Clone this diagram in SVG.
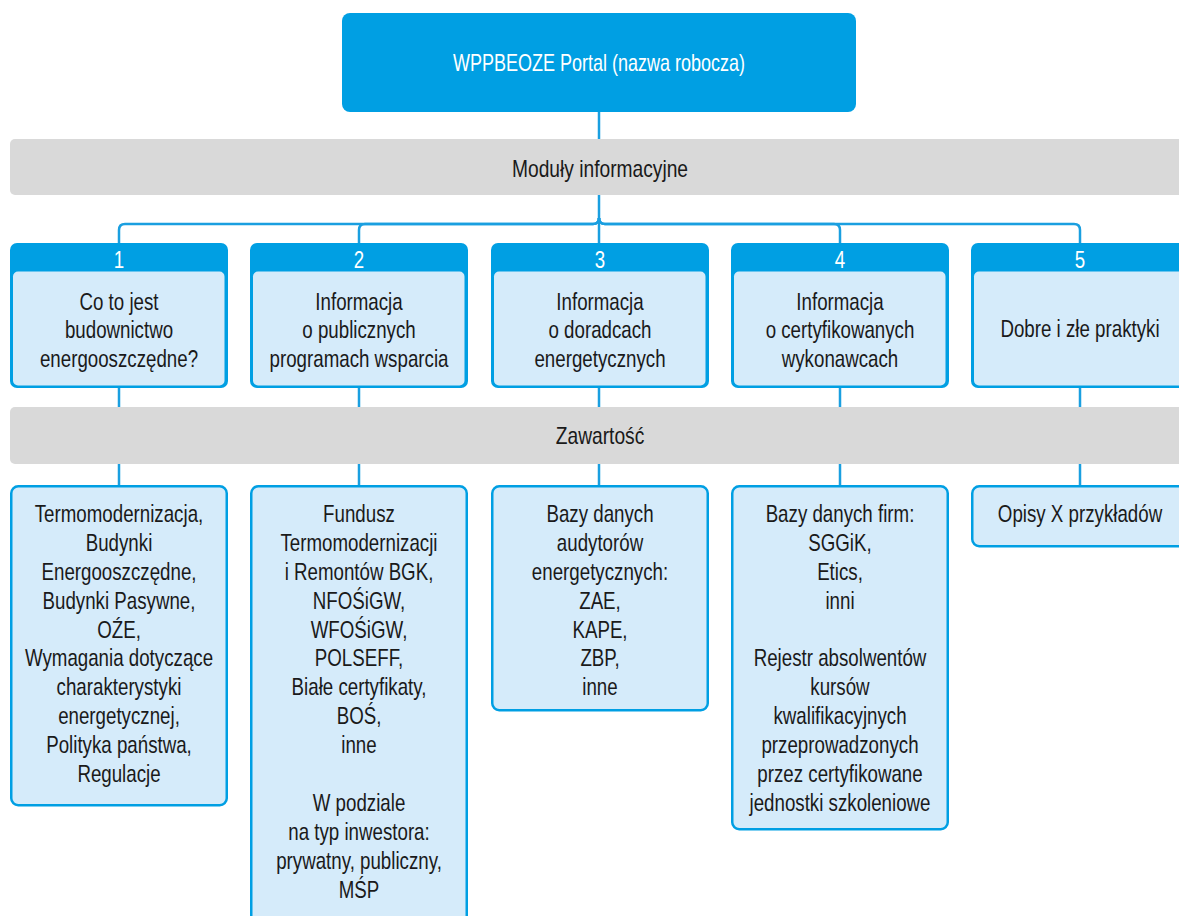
<svg xmlns="http://www.w3.org/2000/svg" width="1179" height="916" viewBox="0 0 1179 916">
<style>
.t{font-family:"Liberation Sans",Arial,sans-serif;font-size:24px;fill:#1a1a1a;text-anchor:middle}
.w{fill:#ffffff}
.bar{fill:#d9d9d9}
.hdr{fill:#009fe3}
.body{fill:#d5ebfa}
.box{fill:#d5ebfa;stroke:#009fe3;stroke-width:2.5}
.ln{fill:none;stroke:#1a9fe0;stroke-width:2.5}
</style>
<rect width="1179" height="916" fill="#ffffff"/>
<g id="connectors">
<path class="ln" d="M599 112 V224"/>
<path class="ln" d="M599 218 Q599 224 593 224 H125 Q119 224 119 230 V243"/>
<path class="ln" d="M599 218 Q599 224 593 224 H365 Q359 224 359 230 V243"/>
<path class="ln" d="M599 218 V243"/>
<path class="ln" d="M599 218 Q599 224 605 224 H834 Q840 224 840 230 V243"/>
<path class="ln" d="M599 218 Q599 224 605 224 H1074 Q1080 224 1080 230 V243"/>
<path class="ln" d="M119 388 V486 M359 388 V486 M599 388 V486 M840 388 V486 M1080 388 V486"/>
</g>
<g id="portal">
<rect class="hdr" x="342" y="13" width="514" height="99" rx="8"/>
<text class="t w" transform="translate(599 71) scale(0.75 1)">WPPBEOZE Portal (nazwa robocza)</text>
</g>
<g id="bar-moduly">
<rect class="bar" x="10" y="139" width="1185" height="56" rx="5"/>
<text class="t" transform="translate(600 177) scale(0.8 1)">Moduły informacyjne</text>
</g>
<g id="module-1">
<rect class="hdr" x="10" y="243" width="218" height="145" rx="7"/>
<rect class="body" x="13" y="271.5" width="211.5" height="114" rx="5"/>
<text class="t w" transform="translate(119 268) scale(0.78 1)">1</text>
<g transform="translate(119 0) scale(0.78 1)"><text class="t"><tspan x="0" y="310">Co to jest</tspan><tspan x="0" y="338.5">budownictwo</tspan><tspan x="0" y="367">energooszczędne?</tspan></text></g>
</g>
<g id="module-2">
<rect class="hdr" x="250" y="243" width="218" height="145" rx="7"/>
<rect class="body" x="253" y="271.5" width="211.5" height="114" rx="5"/>
<text class="t w" transform="translate(359 268) scale(0.78 1)">2</text>
<g transform="translate(359 0) scale(0.78 1)"><text class="t"><tspan x="0" y="310">Informacja</tspan><tspan x="0" y="338.5">o publicznych</tspan><tspan x="0" y="367">programach wsparcia</tspan></text></g>
</g>
<g id="module-3">
<rect class="hdr" x="491" y="243" width="218" height="145" rx="7"/>
<rect class="body" x="494" y="271.5" width="211.5" height="114" rx="5"/>
<text class="t w" transform="translate(600 268) scale(0.78 1)">3</text>
<g transform="translate(600 0) scale(0.78 1)"><text class="t"><tspan x="0" y="310">Informacja</tspan><tspan x="0" y="338.5">o doradcach</tspan><tspan x="0" y="367">energetycznych</tspan></text></g>
</g>
<g id="module-4">
<rect class="hdr" x="731" y="243" width="218" height="145" rx="7"/>
<rect class="body" x="734" y="271.5" width="211.5" height="114" rx="5"/>
<text class="t w" transform="translate(840 268) scale(0.78 1)">4</text>
<g transform="translate(840 0) scale(0.78 1)"><text class="t"><tspan x="0" y="310">Informacja</tspan><tspan x="0" y="338.5">o certyfikowanych</tspan><tspan x="0" y="367">wykonawcach</tspan></text></g>
</g>
<g id="module-5">
<rect class="hdr" x="971" y="243" width="218" height="145" rx="7"/>
<rect class="body" x="974" y="271.5" width="211.5" height="114" rx="5"/>
<text class="t w" transform="translate(1080 268) scale(0.78 1)">5</text>
<g transform="translate(1080 0) scale(0.78 1)"><text class="t"><tspan x="0" y="337">Dobre i złe praktyki</tspan></text></g>
</g>
<g id="bar-zawartosc">
<rect class="bar" x="10" y="407" width="1185" height="57" rx="5"/>
<text class="t" transform="translate(600 444) scale(0.8 1)">Zawartość</text>
</g>
<g id="content-1">
<rect class="box" x="11.25" y="486.25" width="215.5" height="319" rx="7"/>
<g transform="translate(119 0) scale(0.78 1)"><text class="t"><tspan x="0" y="522">Termomodernizacja,</tspan><tspan x="0" y="550.9">Budynki</tspan><tspan x="0" y="579.8">Energooszczędne,</tspan><tspan x="0" y="608.7">Budynki Pasywne,</tspan><tspan x="0" y="637.6">OŹE,</tspan><tspan x="0" y="666.5">Wymagania dotyczące</tspan><tspan x="0" y="695.4">charakterystyki</tspan><tspan x="0" y="724.3">energetycznej,</tspan><tspan x="0" y="753.2">Polityka państwa,</tspan><tspan x="0" y="782.1">Regulacje</tspan></text></g>
</g>
<g id="content-2">
<rect class="box" x="251.25" y="486.25" width="215.5" height="440" rx="7"/>
<g transform="translate(359 0) scale(0.78 1)"><text class="t"><tspan x="0" y="522">Fundusz</tspan><tspan x="0" y="550.9">Termomodernizacji</tspan><tspan x="0" y="579.8">i Remontów BGK,</tspan><tspan x="0" y="608.7">NFOŚiGW,</tspan><tspan x="0" y="637.6">WFOŚiGW,</tspan><tspan x="0" y="666.5">POLSEFF,</tspan><tspan x="0" y="695.4">Białe certyfikaty,</tspan><tspan x="0" y="724.3">BOŚ,</tspan><tspan x="0" y="753.2">inne</tspan><tspan x="0" y="811">W podziale</tspan><tspan x="0" y="839.9">na typ inwestora:</tspan><tspan x="0" y="868.8">prywatny, publiczny,</tspan><tspan x="0" y="897.7">MŚP</tspan></text></g>
</g>
<g id="content-3">
<rect class="box" x="492.25" y="486.25" width="215.5" height="224" rx="7"/>
<g transform="translate(600 0) scale(0.78 1)"><text class="t"><tspan x="0" y="522">Bazy danych</tspan><tspan x="0" y="550.9">audytorów</tspan><tspan x="0" y="579.8">energetycznych:</tspan><tspan x="0" y="608.7">ZAE,</tspan><tspan x="0" y="637.6">KAPE,</tspan><tspan x="0" y="666.5">ZBP,</tspan><tspan x="0" y="695.4">inne</tspan></text></g>
</g>
<g id="content-4">
<rect class="box" x="732.25" y="486.25" width="215.5" height="343" rx="7"/>
<g transform="translate(840 0) scale(0.78 1)"><text class="t"><tspan x="0" y="522">Bazy danych firm:</tspan><tspan x="0" y="550.9">SGGiK,</tspan><tspan x="0" y="579.8">Etics,</tspan><tspan x="0" y="608.7">inni</tspan><tspan x="0" y="666.5">Rejestr absolwentów</tspan><tspan x="0" y="695.4">kursów</tspan><tspan x="0" y="724.3">kwalifikacyjnych</tspan><tspan x="0" y="753.2">przeprowadzonych</tspan><tspan x="0" y="782.1">przez certyfikowane</tspan><tspan x="0" y="811">jednostki szkoleniowe</tspan></text></g>
</g>
<g id="content-5">
<rect class="box" x="972.25" y="486.25" width="215.5" height="60" rx="7"/>
<g transform="translate(1080 0) scale(0.78 1)"><text class="t"><tspan x="0" y="522">Opisy X przykładów</tspan></text></g>
</g>
</svg>
